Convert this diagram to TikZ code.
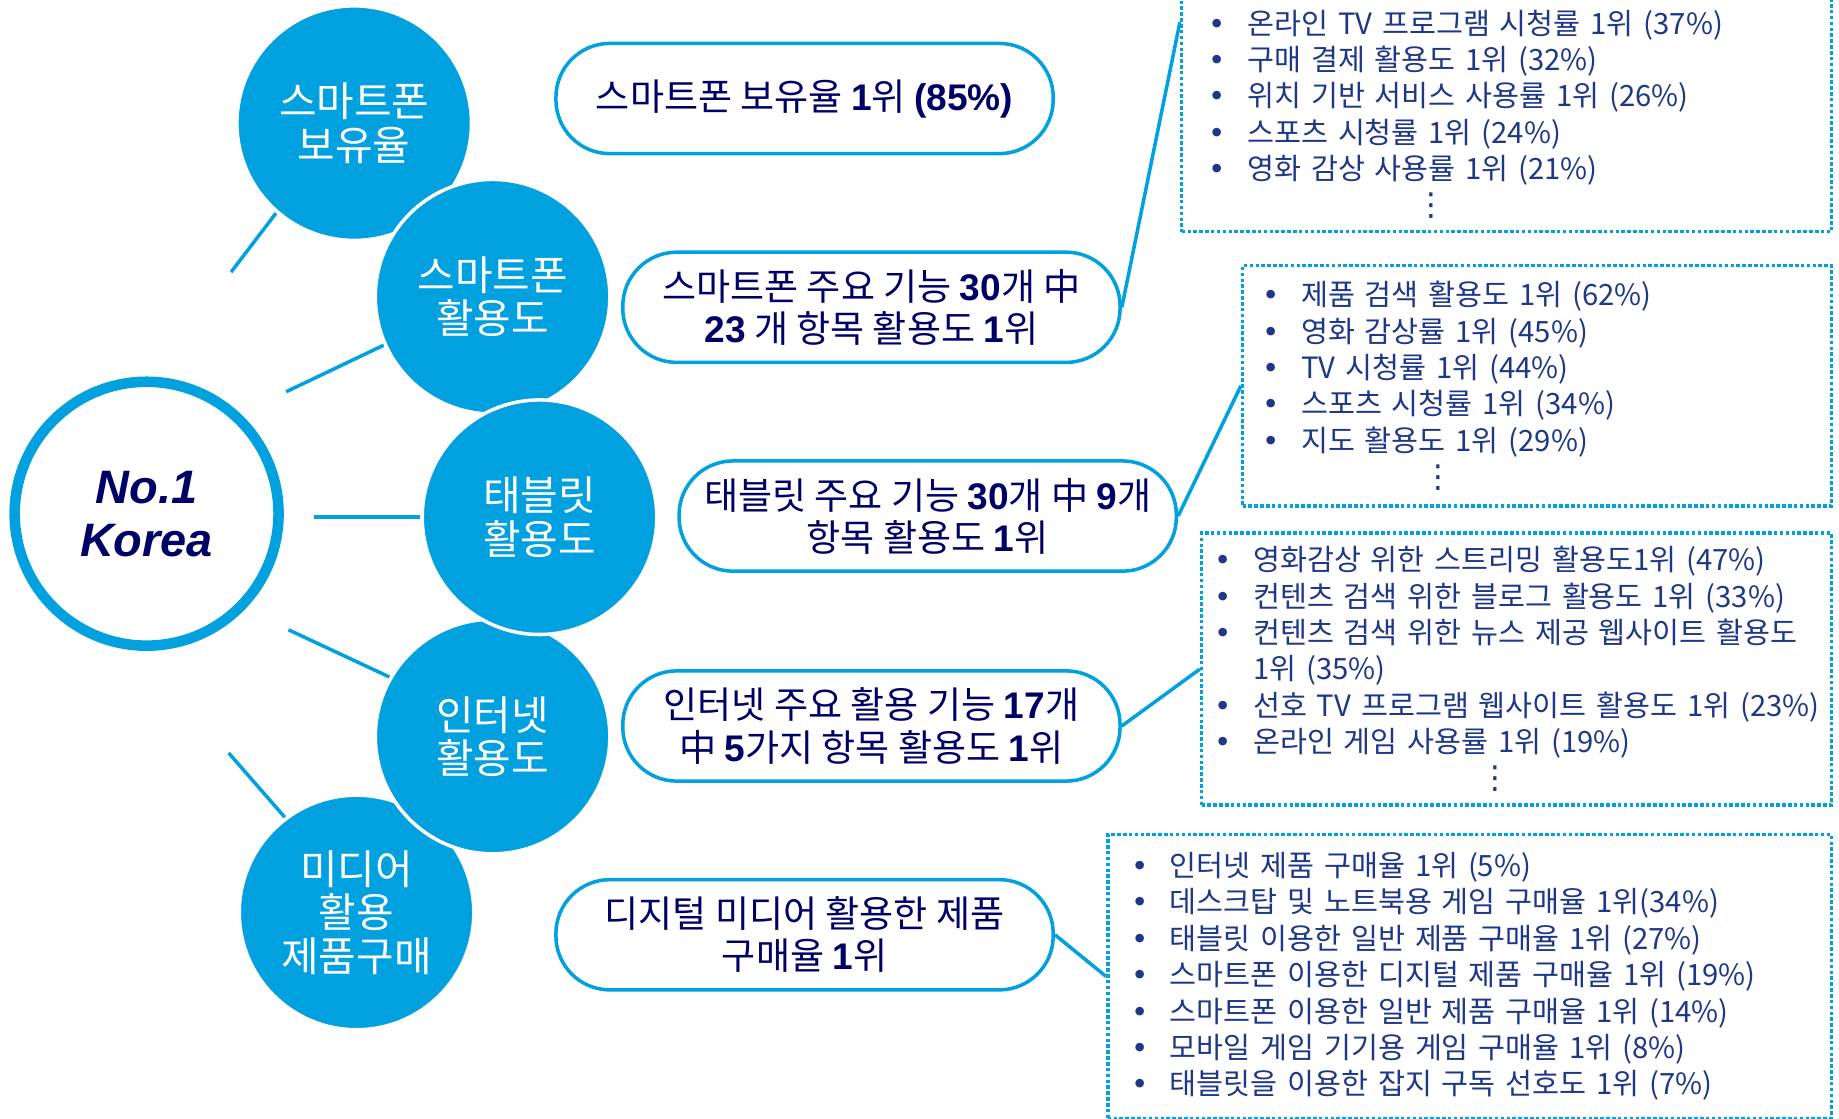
\documentclass[tikz,border=0pt]{standalone}
\usepackage{fontspec}
\setmainfont{Noto Sans CJK KR}
\newfontfamily\arialfont{Liberation Sans}
\newfontfamily\dejavu{DejaVu Sans}
\usepackage{xcolor}
\usepackage{tikz}
\usetikzlibrary{calc,backgrounds}

\definecolor{kblue}{RGB}{0,161,222}
\definecolor{knavy}{RGB}{0,0,102}
\definecolor{klist}{RGB}{30,55,135}

\newcommand{\bnum}[1]{{\arialfont\bfseries #1}}
\newcommand{\itm}[1]{\makebox[16.5pt][l]{{\dejavu •}}\mbox{#1}}
\newcommand{\more}[1]{\hspace*{#1}{\dejavu\fontsize{13.5}{15.5}\selectfont ⋮}}

\begin{document}
\begin{tikzpicture}[x=0.5pt, y=-0.5pt,
      topic/.style={circle, fill=kblue, draw=white, line width=1.5pt, minimum size=100pt,
                    inner sep=0pt, text=white, align=center,
                    font=\fontsize{17.4}{18.5}\selectfont},
      hub/.style={circle, fill=white, draw=kblue, line width=4.5pt, minimum size=112.5pt,
                  text=knavy, align=center,
                  font=\arialfont\bfseries\itshape\fontsize{20}{22.5}\selectfont},
      rank/.style={draw=kblue, fill=white, rounded corners=23pt, line width=1.5pt,
                   minimum width=212pt, minimum height=47pt, align=center, text=knavy,
                   font=\fontsize{15.8}{18}\selectfont},
      detail/.style={draw=kblue, dash pattern=on 1.5pt off 1pt, line width=1.5pt,
                     anchor=north west, align=left, text=klist, inner ysep=0pt,
                     font=\fontsize{12.5}{15.5}\selectfont},
      link/.style={draw=kblue, line width=1.5pt}]

    \useasboundingbox (0,0) rectangle (1568,954);
    \clip (0,0) rectangle (1568,954);

    % satellites (middle one on top)
    \node[topic] (c1) at (302,105) {스마트폰\\보유율};
    \node[topic] (c2) at (420,253) {스마트폰\\활용도};
    \node[topic] (c5) at (304,778) {미디어\\활용\\제품구매};
    \node[topic] (c4) at (420,628) {인터넷\\활용도};
    \node[topic] (c3) at (460,441) {태블릿\\활용도};

    \node[hub] (korea) at (125,438) {No.1\\Korea};

    \coordinate (k1) at (197,232);
    \coordinate (k2) at (244,334);
    \coordinate (k3) at (268,441);
    \coordinate (k4) at (246,537);
    \coordinate (k5) at (195,642);
    \begin{scope}[on background layer]
      \draw[link] (k1) -- (c1.229);
      \draw[link] (k2) -- (c2.204);
      \draw[link] (k3) -- (c3.west);
      \draw[link] (k4) -- (c4.150);
      \draw[link] (k5) -- (c5.127);
    \end{scope}

    \node[rank] (box1) at (686,84) {스마트폰 보유율 \bnum{1}위 \bnum{(85\%)}};
    \node[rank] (box2) at (743,262)
      {스마트폰 주요 기능 \bnum{30}개 中\\\bnum{23} 개 항목 활용도 \bnum{1}위};
    \node[rank] (box3) at (791,440)
      {태블릿 주요 기능 \bnum{30}개 中 \bnum{9}개\\항목 활용도 \bnum{1}위};
    \node[rank] (box4) at (743,619)
      {인터넷 주요 활용 기능 \bnum{17}개\\中 \bnum{5}가지 항목 활용도 \bnum{1}위};
    \node[rank] (box5) at (686,797)
      {디지털 미디어 활용한 제품\\구매율 \bnum{1}위};

    \node[detail, inner xsep=11.5pt, text width=254pt, minimum height=116pt] (list1)
      at (1006,-36)
      {\strut\\
       \itm{온라인 TV 프로그램 시청률 1위 (37\%)}\\
       \itm{구매 결제 활용도 1위 (32\%)}\\
       \itm{위치 기반 서비스 사용률 1위 (26\%)}\\
       \itm{스포츠 시청률 1위 (24\%)}\\
       \itm{영화 감상 사용률 1위 (21\%)}\\
       \more{88pt}};
    \node[detail, inner xsep=8.5pt, text width=234pt, minimum height=102.5pt] (list2)
      at (1058,225)
      {\itm{제품 검색 활용도 1위 (62\%)}\\
       \itm{영화 감상률 1위 (45\%)}\\
       \itm{TV 시청률 1위 (44\%)}\\
       \itm{스포츠 시청률 1위 (34\%)}\\
       \itm{지도 활용도 1위 (29\%)}\\
       \more{68pt}};
    \node[detail, inner xsep=5.5pt, text width=257.5pt, minimum height=116pt] (list3)
      at (1023,453)
      {\itm{영화감상 위한 스트리밍 활용도1위 (47\%)}\\
       \itm{컨텐츠 검색 위한 블로그 활용도 1위 (33\%)}\\
       \itm{컨텐츠 검색 위한 뉴스 제공 웹사이트 활용도}\\
       \hspace*{16.5pt}1위 (35\%)\\
       \itm{선호 TV 프로그램 웹사이트 활용도 1위 (23\%)}\\
       \itm{온라인 게임 사용률 1위 (19\%)}\\
       \more{113pt}};
    \node[detail, inner xsep=10pt, text width=288.5pt, minimum height=121pt] (list4)
      at (943,710)
      {\itm{인터넷 제품 구매율 1위 (5\%)}\\
       \itm{데스크탑 및 노트북용 게임 구매율 1위(34\%)}\\
       \itm{태블릿 이용한 일반 제품 구매율 1위 (27\%)}\\
       \itm{스마트폰 이용한 디지털 제품 구매율 1위 (19\%)}\\
       \itm{스마트폰 이용한 일반 제품 구매율 1위 (14\%)}\\
       \itm{모바일 게임 기기용 게임 구매율 1위 (8\%)}\\
       \itm{태블릿을 이용한 잡지 구독 선호도 1위 (7\%)}};

    \draw[link] (box2.east) -- ($(list1.south west)+(0,-180)$);
    \draw[link] (box3.east) -- (list2.west);
    \draw[link] (box4.east) -- (list3.west);
    \draw[link] (box5.east) -- (list4.west);
  \end{tikzpicture}
\end{document}
